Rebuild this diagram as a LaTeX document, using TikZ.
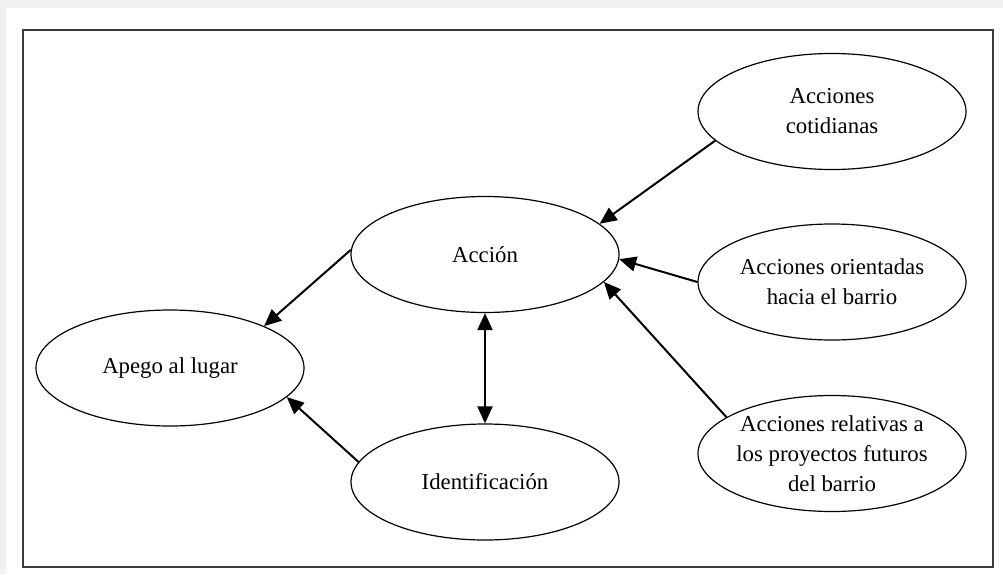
\documentclass[tikz,border=0pt]{standalone}
\usepackage{fontspec}
\setmainfont{Liberation Serif}
\usetikzlibrary{shapes.geometric,arrows.meta}

\definecolor{pagegray}{HTML}{F1F1F1}
\definecolor{framegray}{HTML}{3A3A3A}

\tikzset{
  oval/.style={ellipse, draw=black, line width=1.2pt, minimum width=268pt,
               minimum height=116pt, inner sep=0pt},
  ovaltext/.style={align=center, inner sep=0pt,
                   font=\fontsize{22.8}{30}\selectfont},
  tip/.style={Triangle[length=17pt,width=15pt]},
  link/.style={line width=2pt, -{Triangle[length=17pt,width=15pt]}},
  biglink/.style={line width=2pt, {Triangle[length=17pt,width=15pt]}-{Triangle[length=17pt,width=15pt]}},
}

\begin{document}
\begin{tikzpicture}[x=1pt,y=-1pt]
  % page and frame
  \useasboundingbox (0,0) rectangle (1003,574);
  \fill[pagegray] (0,0) rectangle (1003,574);
  \fill[white] (6,8) rectangle (1003,574);
  \draw[framegray, line width=2pt] (22.5,29.5) rectangle (993,567);

  % ellipses
  \node[oval] (accion)  at (485,254.5) {};
  \node[oval] (apego)   at (170,368)   {};
  \node[oval] (ident)   at (485,482)   {};
  \node[oval] (cotid)   at (832,111.5) {};
  \node[oval] (orient)  at (832,282)   {};
  \node[oval] (relat)   at (832,453.5) {};

  % labels
  \node[ovaltext] (accion-t) at (accion) {Acción};
  \node[ovaltext] (apego-t)  at (apego)  {Apego al lugar};
  \node[ovaltext] (ident-t)  at (ident)  {Identificación};
  \node[ovaltext] (cotid-t)  at (cotid)  {Acciones\\cotidianas};
  \node[ovaltext] (orient-t) at (orient) {Acciones orientadas\\hacia el barrio};
  \node[ovaltext] (relat-t)  at (relat)  {Acciones relativas a\\los proyectos futuros\\del barrio};

  % connectors
  \draw[link] (accion.178) -- (apego.24.5);
  \draw[link] (ident.171) -- (apego.-14.4);
  \draw[link] (cotid.194.6) -- (accion.15);
  \draw[link] (orient.west) -- (accion.-2);
  \draw[link] (relat.161.5) -- (accion.-13.7);
  \draw[biglink] (accion.south) -- (ident.north);
\end{tikzpicture}
\end{document}
